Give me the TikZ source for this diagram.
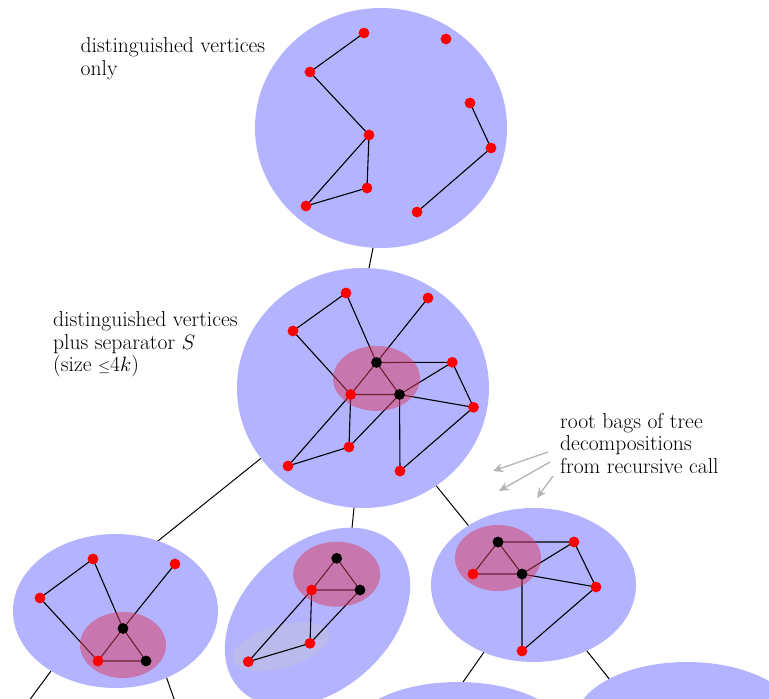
\documentclass[tikz,border=0pt]{standalone}
\usetikzlibrary{arrows.meta}
\definecolor{bagblue}{RGB}{179,179,255}
\definecolor{seppink}{RGB}{221,61,95}
\definecolor{arrgray}{RGB}{180,180,180}
\begin{document}
\begin{tikzpicture}[x=1pt,y=-1pt,
  bag/.style={fill=bagblue},
  sep/.style={fill=seppink,fill opacity=0.5},
  hint/.style={fill=black!21,fill opacity=0.35},
  rv/.style={circle,fill=red,inner sep=0pt,minimum size=10.8pt},
  bv/.style={circle,fill=black,inner sep=0pt,minimum size=10.8pt},
  edge/.style={line width=1.1pt},
  treeedge/.style={line width=1pt},
  hintarrow/.style={draw=arrgray,line width=1.3pt,-{Stealth[length=10pt,width=9pt]}},
  lbl/.style={anchor=base west,inner sep=0pt,
              font=\fontsize{21.6}{22.5}\selectfont}
]
\useasboundingbox (0,0) rectangle (769,699);

% tree connectors (behind the bags)
\coordinate (t1) at (377,228); \coordinate (t2) at (365,288);
\coordinate (m1) at (300,427); \coordinate (l1) at (118,573);
\coordinate (m2) at (356,488); \coordinate (c2) at (350,548);
\coordinate (m3) at (421,467); \coordinate (r3) at (485,546);
\coordinate (l4) at (65,652);  \coordinate (o4) at (20,713);
\coordinate (l5) at (160,659); \coordinate (o5) at (179,713);
\coordinate (r6) at (496,635); \coordinate (p6) at (449,702);
\coordinate (r7) at (571,631); \coordinate (p7) at (626,700);
\draw[treeedge] (t1) -- (t2);
\draw[treeedge] (m1) -- (l1);
\draw[treeedge] (m2) -- (c2);
\draw[treeedge] (m3) -- (r3);
\draw[treeedge] (l4) -- (o4);
\draw[treeedge] (l5) -- (o5);
\draw[treeedge] (r6) -- (p6);
\draw[treeedge] (r7) -- (p7);

% bags
\fill[bag] (381,128) ellipse [x radius=126, y radius=120];
\fill[bag] (363,388) ellipse [x radius=126, y radius=120];
\fill[bag] (115.5,611) ellipse [x radius=102.5, y radius=77];
\fill[bag,rotate around={42:(317.5,617)}] (317.5,617) ellipse [x radius=106, y radius=73];
\fill[bag] (533.5,585) ellipse [x radius=102.5, y radius=77];
\fill[bag] (458,737) ellipse [x radius=110, y radius=55];
\fill[bag] (687,722) ellipse [x radius=112, y radius=60];

\fill[hint,rotate around={15.7:(280.8,646.7)}] (280.8,646.7) ellipse [x radius=50, y radius=21];

% top bag
\coordinate (a1) at (364,33);
\coordinate (a2) at (446,39);
\coordinate (a3) at (310,72);
\coordinate (a4) at (369,135);
\coordinate (a5) at (367,188);
\coordinate (a6) at (306,206);
\coordinate (a7) at (470,103);
\coordinate (a8) at (491,148);
\coordinate (a9) at (417,212);
\draw[edge] (a1) -- (a3) -- (a4) -- (a5) -- (a6) -- (a4);
\draw[edge] (a7) -- (a8) -- (a9);
\foreach \v in {a1,a2,a3,a4,a5,a6,a7,a8,a9} \node[rv] at (\v) {};

% middle bag
\coordinate (b1) at (346,293);
\coordinate (b2) at (428,298);
\coordinate (b3) at (293,331);
\coordinate (b4) at (376.5,362.5);
\coordinate (b5) at (452.3,362.3);
\coordinate (b6) at (350.7,394.5);
\coordinate (b7) at (399.5,394.5);
\coordinate (b8) at (473.5,407.3);
\coordinate (b9) at (349,447);
\coordinate (b10) at (288,466);
\coordinate (b11) at (400,471);
\draw[edge] (b1) -- (b3) -- (b6);
\draw[edge] (b1) -- (b4) -- (b2);
\draw[edge] (b4) -- (b6) -- (b7) -- (b4) -- (b5) -- (b7);
\draw[edge] (b5) -- (b8) -- (b7) -- (b11) -- (b8);
\draw[edge] (b6) -- (b9) -- (b7);
\draw[edge] (b6) -- (b10) -- (b9);
\fill[sep] (376.5,378.5) ellipse [x radius=43.5, y radius=32.5];
\foreach \v in {b1,b2,b3,b5,b6,b8,b9,b10,b11} \node[rv] at (\v) {};
\foreach \v in {b4,b7} \node[bv] at (\v) {};

% bottom-left bag
\coordinate (c1) at (93,559);
\coordinate (c2v) at (175,564);
\coordinate (c3) at (40,598);
\coordinate (c4) at (123,628.5);
\coordinate (c5) at (98,661);
\coordinate (c6) at (146,661);
\draw[edge] (c1) -- (c3) -- (c5) -- (c4) -- (c1);
\draw[edge] (c2v) -- (c4) -- (c6) -- (c5);
\fill[sep] (123,645) ellipse [x radius=43, y radius=33];
\foreach \v in {c1,c2v,c3,c5} \node[rv] at (\v) {};
\foreach \v in {c4,c6} \node[bv] at (\v) {};

% bottom-middle bag
\coordinate (d1) at (336.7,558.3);
\coordinate (d2) at (311.7,590);
\coordinate (d3) at (360,590);
\coordinate (d4) at (310,643.3);
\coordinate (d5) at (248.3,661.7);
\draw[edge] (d1) -- (d2) -- (d3) -- (d1);
\draw[edge] (d2) -- (d4) -- (d3);
\draw[edge] (d2) -- (d5) -- (d4);
\fill[sep] (336.7,574.2) ellipse [x radius=43.5, y radius=32.5];
\foreach \v in {d2,d4,d5} \node[rv] at (\v) {};
\foreach \v in {d1,d3} \node[bv] at (\v) {};

% bottom-right bag
\coordinate (e1) at (498,542);
\coordinate (e2) at (574,542);
\coordinate (e3) at (473,574);
\coordinate (e4) at (522,574);
\coordinate (e5) at (596,587);
\coordinate (e6) at (522,651);
\draw[edge] (e2) -- (e1) -- (e3) -- (e4) -- (e1);
\draw[edge] (e2) -- (e4) -- (e5) -- (e2);
\draw[edge] (e4) -- (e6) -- (e5);
\fill[sep] (498,558) ellipse [x radius=43, y radius=33];
\foreach \v in {e2,e3,e5,e6} \node[rv] at (\v) {};
\foreach \v in {e1,e4} \node[bv] at (\v) {};

% labels (first baseline at the given point)
\node[lbl] (la) at (80.5,52.7)
  {\vtop{\hbox{distinguished vertices}\hbox{only}}};
\node[lbl] (lb) at (53,326.7)
  {\vtop{\hbox{distinguished vertices}\hbox{plus separator $S$}\hbox{(size \scalebox{0.75}{$\leq$}4$k$)}}};
\node[lbl] (lc) at (560,428.3)
  {\vtop{\hbox{root bags of tree}\hbox{decompositions}\hbox{from recursive call}}};

% hint arrows
\coordinate (h1s) at (548,452); \coordinate (h1e) at (493,471);
\coordinate (h2s) at (550,462); \coordinate (h2e) at (499,491);
\coordinate (h3s) at (553,476); \coordinate (h3e) at (537,498);
\draw[hintarrow] (h1s) -- (h1e);
\draw[hintarrow] (h2s) -- (h2e);
\draw[hintarrow] (h3s) -- (h3e);
\end{tikzpicture}
\end{document}
